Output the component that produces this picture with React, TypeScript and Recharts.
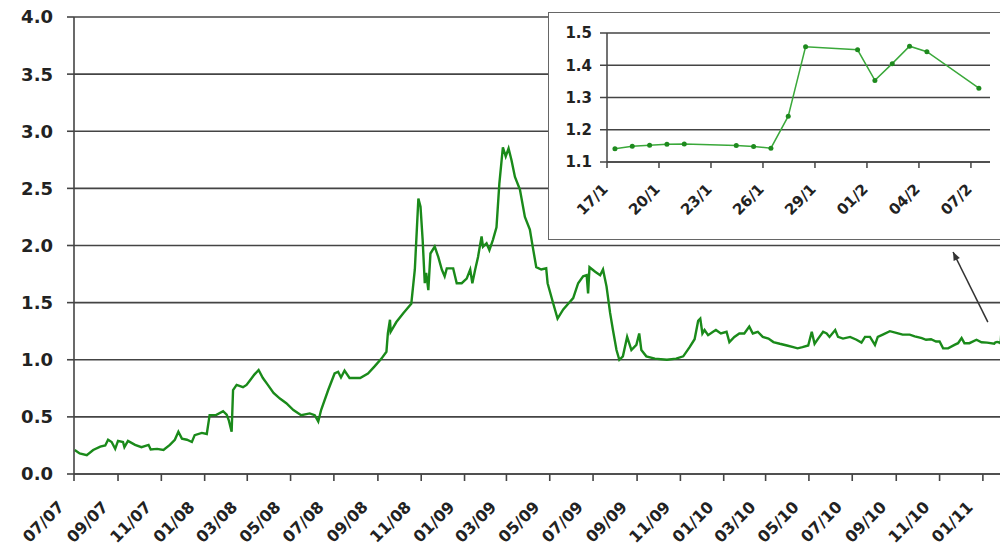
import { CartesianGrid, Line, LineChart, ReferenceLine, XAxis, YAxis } from "recharts";

// main series: date / rate
const historyDates = [
  "2007-07-02", "2007-07-09", "2007-07-19", "2007-07-28", "2007-08-07", "2007-08-14", "2007-08-18", "2007-08-23",
  "2007-08-28", "2007-09-01", "2007-09-08", "2007-09-10", "2007-09-15", "2007-09-25", "2007-10-04", "2007-10-14",
  "2007-10-17", "2007-10-26", "2007-11-04", "2007-11-13", "2007-11-20", "2007-11-25", "2007-11-30", "2007-12-07",
  "2007-12-14", "2007-12-18", "2007-12-28", "2008-01-04", "2008-01-08", "2008-01-17", "2008-01-27", "2008-02-01",
  "2008-02-04", "2008-02-08", "2008-02-10", "2008-02-15", "2008-02-24", "2008-02-29", "2008-03-05", "2008-03-11",
  "2008-03-17", "2008-03-23", "2008-03-30", "2008-04-07", "2008-04-16", "2008-04-25", "2008-05-05", "2008-05-16",
  "2008-05-28", "2008-06-04", "2008-06-09", "2008-06-13", "2008-06-23", "2008-07-02", "2008-07-07", "2008-07-11",
  "2008-07-16", "2008-07-23", "2008-08-07", "2008-08-18", "2008-08-27", "2008-09-06", "2008-09-13", "2008-09-15",
  "2008-09-18", "2008-09-19", "2008-09-27", "2008-10-07", "2008-10-18", "2008-10-23", "2008-10-28", "2008-10-31",
  "2008-11-03", "2008-11-06", "2008-11-08", "2008-11-11", "2008-11-14", "2008-11-20", "2008-11-25", "2008-11-30",
  "2008-12-04", "2008-12-07", "2008-12-16", "2008-12-21", "2008-12-28", "2009-01-04", "2009-01-09", "2009-01-12",
  "2009-01-16", "2009-01-20", "2009-01-25", "2009-01-27", "2009-02-01", "2009-02-05", "2009-02-10", "2009-02-15",
  "2009-02-19", "2009-02-24", "2009-02-28", "2009-03-04", "2009-03-08", "2009-03-13", "2009-03-20", "2009-03-27",
  "2009-04-03", "2009-04-07", "2009-04-12", "2009-04-19", "2009-04-26", "2009-04-28", "2009-05-06", "2009-05-12",
  "2009-05-20", "2009-05-27", "2009-06-03", "2009-06-10", "2009-06-17", "2009-06-22", "2009-06-24", "2009-06-26",
  "2009-07-04", "2009-07-11", "2009-07-15", "2009-07-20", "2009-07-25", "2009-07-29", "2009-08-03", "2009-08-07",
  "2009-08-12", "2009-08-18", "2009-08-24", "2009-08-31", "2009-09-04", "2009-09-07", "2009-09-14", "2009-09-26",
  "2009-10-13", "2009-10-26", "2009-11-05", "2009-11-14", "2009-11-21", "2009-11-26", "2009-11-29", "2009-12-02",
  "2009-12-05", "2009-12-10", "2009-12-17", "2009-12-21", "2009-12-28", "2010-01-05", "2010-01-09", "2010-01-16",
  "2010-01-23", "2010-01-30", "2010-02-06", "2010-02-11", "2010-02-18", "2010-02-25", "2010-03-05", "2010-03-12",
  "2010-03-21", "2010-03-31", "2010-04-09", "2010-04-15", "2010-04-22", "2010-04-30", "2010-05-05", "2010-05-09",
  "2010-05-14", "2010-05-21", "2010-05-26", "2010-05-30", "2010-06-07", "2010-06-11", "2010-06-18", "2010-06-28",
  "2010-07-07", "2010-07-14", "2010-07-19", "2010-07-26", "2010-08-02", "2010-08-06", "2010-08-13", "2010-08-23",
  "2010-09-01", "2010-09-10", "2010-09-20", "2010-09-27", "2010-10-07", "2010-10-13", "2010-10-20", "2010-10-27",
  "2010-11-01", "2010-11-06", "2010-11-13", "2010-11-22", "2010-11-27", "2010-12-02", "2010-12-06", "2010-12-13",
  "2010-12-23", "2010-12-30", "2011-01-07",
];
const historyRates = [
  0.21, 0.18, 0.165, 0.21, 0.24, 0.25, 0.3, 0.28,
  0.22, 0.29, 0.28, 0.235, 0.29, 0.255, 0.235, 0.255,
  0.215, 0.22, 0.21, 0.255, 0.3, 0.37, 0.31, 0.3,
  0.28, 0.34, 0.36, 0.35, 0.515, 0.515, 0.55, 0.52,
  0.47, 0.37, 0.735, 0.78, 0.76, 0.78, 0.82, 0.87,
  0.91, 0.84, 0.78, 0.71, 0.66, 0.62, 0.56, 0.515,
  0.53, 0.515, 0.46, 0.56, 0.735, 0.88, 0.895, 0.845,
  0.905, 0.84, 0.84, 0.88, 0.94, 1.01, 1.07, 1.23,
  1.35, 1.245, 1.33, 1.41, 1.49, 1.79, 2.41, 2.34,
  2.05, 1.67, 1.76, 1.61, 1.93, 1.99, 1.9, 1.79,
  1.73, 1.8, 1.8, 1.67, 1.67, 1.71, 1.79, 1.67,
  1.79, 1.9, 2.08, 1.99, 2.02, 1.96, 2.05, 2.16,
  2.54, 2.86, 2.78, 2.85, 2.75, 2.6, 2.49, 2.25,
  2.14, 1.99, 1.81, 1.79, 1.8, 1.67, 1.49, 1.36,
  1.44, 1.49, 1.54, 1.67, 1.73, 1.74, 1.58, 1.81,
  1.77, 1.74, 1.79, 1.64, 1.41, 1.26, 1.085, 1.0,
  1.03, 1.2, 1.085, 1.13, 1.23, 1.085, 1.03, 1.01,
  1.0, 1.01, 1.03, 1.11, 1.18, 1.34, 1.36, 1.23,
  1.26, 1.215, 1.245, 1.26, 1.23, 1.245, 1.155, 1.2,
  1.23, 1.23, 1.29, 1.23, 1.245, 1.2, 1.185, 1.155,
  1.14, 1.125, 1.11, 1.1, 1.11, 1.125, 1.245, 1.14,
  1.185, 1.245, 1.23, 1.2, 1.26, 1.2, 1.185, 1.2,
  1.175, 1.15, 1.2, 1.2, 1.13, 1.2, 1.22, 1.25,
  1.235, 1.22, 1.22, 1.205, 1.19, 1.175, 1.18, 1.16,
  1.16, 1.1, 1.1, 1.13, 1.145, 1.19, 1.145, 1.145,
  1.175, 1.153, 1.15,
];

// recent weeks (inset)
const recentDates = [
  "2011-01-17", "2011-01-18", "2011-01-19", "2011-01-20", "2011-01-21", "2011-01-24", "2011-01-25", "2011-01-26",
  "2011-01-27", "2011-01-28", "2011-01-31", "2011-02-01", "2011-02-02", "2011-02-03", "2011-02-04", "2011-02-07",
];
const recentRates = [
  1.141, 1.149, 1.152, 1.155, 1.156, 1.151, 1.148, 1.143,
  1.242, 1.457, 1.448, 1.353, 1.405, 1.459, 1.442, 1.329,
];

const mainTickLabels = [
  "07/07", "09/07", "11/07", "01/08", "03/08", "05/08", "07/08", "09/08", "11/08", "01/09", "03/09",
  "05/09", "07/09", "09/09", "11/09", "01/10", "03/10", "05/10", "07/10", "09/10", "11/10", "01/11",
];
const mainYTicks = [0, 0.5, 1, 1.5, 2, 2.5, 3, 3.5, 4];
const insetTickLabels = ["17/1", "20/1", "23/1", "26/1", "29/1", "01/2", "04/2", "07/2"];
const insetYTicks = [1.1, 1.2, 1.3, 1.4, 1.5];

const DAY = 86400000;
const FONT = "'DejaVu Sans', sans-serif";
const GRID = "#444";

const toTime = (s: string, hour = 0) =>
  Date.UTC(+s.slice(0, 4), +s.slice(5, 7) - 1, +s.slice(8, 10), hour);

const mainData = [...historyDates, ...recentDates].map((d, i) => ({
  t: toTime(d),
  rate: [...historyRates, ...recentRates][i],
}));
const insetData = recentDates.map((d, i) => ({ t: toTime(d, 11), rate: recentRates[i] }));

const mainTicks = mainTickLabels.map((l) => Date.UTC(2000 + +l.slice(3), +l.slice(0, 2) - 1, 1));
const mainFmt = (v: number) => mainTickLabels[mainTicks.indexOf(v)] ?? "";
const insetTicks = insetTickLabels.map((l) => Date.UTC(2011, +l.split("/")[1] - 1, +l.split("/")[0]));
const insetFmt = (v: number) => insetTickLabels[insetTicks.indexOf(v)] ?? "";

const RotatedTick = (props: any) => {
  const { x, y, payload, dx, dy, size, fmt } = props;
  const tx = x + dx;
  const ty = y + dy;
  return (
    <text
      x={tx}
      y={ty}
      transform={`rotate(-45, ${tx}, ${ty})`}
      textAnchor="end"
      fontFamily={FONT}
      fontWeight="bold"
      fontSize={size}
      fill="#222"
    >
      {fmt(payload.value)}
    </text>
  );
};

const Arrow = (props: any) => {
  const { x1, y1, x2, y2 } = props;
  const a = Math.atan2(y2 - y1, x2 - x1);
  const len = 9;
  const w = 0.4;
  const p1 = `${x2 - len * Math.cos(a - w)},${y2 - len * Math.sin(a - w)}`;
  const p2 = `${x2 - len * Math.cos(a + w)},${y2 - len * Math.sin(a + w)}`;
  return (
    <g>
      <line x1={x1} y1={y1} x2={x2} y2={y2} stroke="#333" strokeWidth={1.5} />
      <polygon points={`${x2},${y2} ${p1} ${p2}`} fill="#333" />
    </g>
  );
};

export default function App() {
  return (
    <div
      style={{
        position: "absolute",
        left: 0,
        top: 0,
        width: 1000,
        height: 559,
        overflow: "hidden",
        background: "#fff",
      }}
    >
      <LineChart
        width={1012}
        height={559}
        data={mainData}
        margin={{ top: 17, right: 0, left: 0, bottom: 0 }}
      >
        <CartesianGrid vertical={false} stroke={GRID} strokeWidth={1.6} />
        <XAxis
          dataKey="t"
          type="number"
          domain={[Date.UTC(2007, 6, 1), Date.UTC(2011, 1, 11)]}
          ticks={mainTicks}
          tickSize={7}
          tickMargin={0}
          height={85}
          stroke={GRID}
          strokeWidth={1.6}
          interval={0}
          allowDataOverflow
          tick={<RotatedTick dx={-9} dy={27} size={16} fmt={mainFmt} />}
        />
        <YAxis
          type="number"
          domain={[0, 4]}
          ticks={mainYTicks}
          width={74}
          tickSize={7}
          tickMargin={14}
          stroke={GRID}
          strokeWidth={1.6}
          tickFormatter={(v: number) => v.toFixed(1)}
          tick={{ fontFamily: FONT, fontWeight: "bold", fontSize: 18, fill: "#222" }}
        />
        <ReferenceLine
          segment={[
            { x: toTime("2011-01-08"), y: 1.33 },
            { x: toTime("2010-11-20"), y: 1.943 },
          ]}
          shape={<Arrow />}
        />
        <Line
          dataKey="rate"
          type="linear"
          stroke="#1a8a1a"
          strokeWidth={2.4}
          dot={false}
          isAnimationActive={false}
        />
      </LineChart>

      <div
        style={{
          position: "absolute",
          left: 548,
          top: 12,
          width: 470,
          height: 228,
          border: "1px solid #666",
          background: "#fff",
          boxSizing: "border-box",
        }}
      >
        <LineChart
          width={460}
          height={224}
          data={insetData}
          margin={{ top: 20, right: 19, left: 0, bottom: 0 }}
        >
          <CartesianGrid vertical={false} stroke={GRID} strokeWidth={1.5} />
          <XAxis
            dataKey="t"
            type="number"
            domain={[Date.UTC(2011, 0, 17), Date.UTC(2011, 0, 17) + 22.1 * DAY]}
            ticks={insetTicks}
            tickSize={6}
            tickMargin={0}
            height={75}
            stroke={GRID}
            strokeWidth={1.5}
            interval={0}
            tick={<RotatedTick dx={2} dy={22} size={15} fmt={insetFmt} />}
          />
          <YAxis
            type="number"
            domain={[1.1, 1.5]}
            ticks={insetYTicks}
            width={58}
            tickSize={7}
            tickMargin={8}
            stroke={GRID}
            strokeWidth={1.5}
            tickFormatter={(v: number) => v.toFixed(1)}
            tick={{ fontFamily: FONT, fontWeight: "bold", fontSize: 15, fill: "#222" }}
          />
          <Line
            dataKey="rate"
            type="linear"
            stroke="#3aa83a"
            strokeWidth={1.5}
            dot={{ r: 2.5, fill: "#1e8a1e", stroke: "#1e8a1e", strokeWidth: 0 }}
            isAnimationActive={false}
          />
        </LineChart>
      </div>
    </div>
  );
}
